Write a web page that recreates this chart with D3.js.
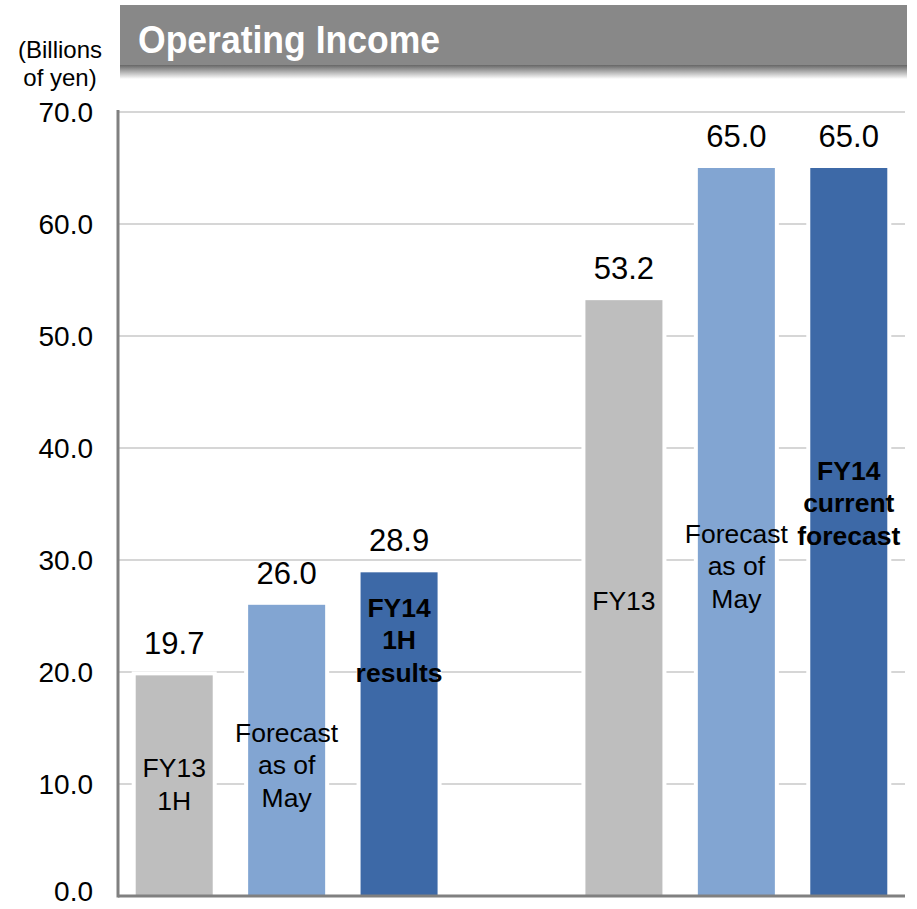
<!DOCTYPE html>
<html>
<head>
<meta charset="utf-8">
<script src="https://cdn.jsdelivr.net/npm/d3@7"></script>
<style>
  body { margin: 0; background: #fff; }
  svg text { font-family: "Liberation Sans", Arial, sans-serif; }
</style>
</head>
<body>
<div id="chart"></div>
<script>
// data
const categories = ["FY13 1H", "1H forecast as of May", "FY14 1H results", "", "FY13", "Full-year forecast as of May", "FY14 current forecast"]
const values = [19.7, 26.0, 28.9, null, 53.2, 65.0, 65.0]
const barLabels = [["FY13", "1H"], ["Forecast", "as of", "May"], ["FY14", "1H", "results"], [], ["FY13"], ["Forecast", "as of", "May"], ["FY14", "current", "forecast"]]
const boldLabel = [false, false, true, false, false, false, true]
const barColors = ["#bebebe", "#82a5d2", "#3d69a7", "none", "#bebebe", "#82a5d2", "#3d69a7"]
const yTicks = [0, 10, 20, 30, 40, 50, 60, 70]

const width = 917
const height = 909
const plotLeft = 118, plotRight = 905, plotTop = 112, plotBottom = 896

// where the inside labels sit (value units, middle of the text block)
const labelMid = [10.0, 11.7, 22.9, null, 26.4, 29.5, 35.1]

const svg = d3.select("#chart").append("svg")
    .attr("width", width)
    .attr("height", height)

const x = d3.scaleBand()
    .domain(d3.range(categories.length))
    .range([plotLeft, plotRight])
    .paddingInner(0.315)
    .paddingOuter(0.1575)

const y = d3.scaleLinear()
    .domain([0, 70])
    .range([plotBottom, plotTop])

// title banner
const defs = svg.append("defs")
const grad = defs.append("linearGradient")
    .attr("id", "shade").attr("x1", 0).attr("x2", 0).attr("y1", 0).attr("y2", 1)
grad.append("stop").attr("offset", "0%").attr("stop-color", "#666")
grad.append("stop").attr("offset", "100%").attr("stop-color", "#fff")

svg.append("rect")
    .attr("x", 120).attr("y", 5).attr("width", 787).attr("height", 60)
    .attr("fill", "#888")
svg.append("rect")
    .attr("x", 120).attr("y", 65).attr("width", 787).attr("height", 14)
    .attr("fill", "url(#shade)")
svg.append("text")
    .attr("x", 138).attr("y", 53)
    .attr("fill", "#fff")
    .attr("font-size", 38)
    .attr("font-weight", "bold")
    .attr("textLength", 302)
    .attr("lengthAdjust", "spacingAndGlyphs")
    .text("Operating Income")

// unit
svg.append("text")
    .attr("x", 60).attr("y", 58)
    .attr("text-anchor", "middle").attr("font-size", 24)
    .text("(Billions")
svg.append("text")
    .attr("x", 60).attr("y", 86)
    .attr("text-anchor", "middle").attr("font-size", 24)
    .text("of yen)")

// gridlines
svg.append("g")
    .selectAll("line")
    .data(yTicks.filter(t => t > 0))
    .enter()
    .append("line")
    .attr("x1", plotLeft).attr("x2", plotRight)
    .attr("y1", d => y(d)).attr("y2", d => y(d))
    .attr("stroke", "#c8c8c8")
    .attr("stroke-width", 1.5)

// tick labels
svg.append("g")
    .selectAll("text")
    .data(yTicks)
    .enter()
    .append("text")
    .attr("x", 93)
    .attr("y", d => Math.min(y(d) + 10, 901))
    .attr("text-anchor", "end")
    .attr("font-size", 28)
    .text(d => d.toFixed(1))

const idx = d3.range(categories.length).filter(i => values[i] != null)

// bars, white outline breaks the gridlines
svg.append("g")
    .selectAll("rect")
    .data(idx)
    .enter()
    .append("rect")
    .attr("x", i => x(i))
    .attr("y", i => y(values[i]))
    .attr("width", x.bandwidth())
    .attr("height", i => y(0) - y(values[i]))
    .attr("fill", i => barColors[i])
    .attr("stroke", "#fff")
    .attr("stroke-width", 8)
    .attr("paint-order", "stroke")

// axes lines
svg.append("line")
    .attr("x1", plotLeft).attr("x2", plotLeft)
    .attr("y1", y(70) - 2).attr("y2", plotBottom + 1.5)
    .attr("stroke", "#808080").attr("stroke-width", 3)
svg.append("line")
    .attr("x1", plotLeft).attr("x2", plotRight)
    .attr("y1", plotBottom).attr("y2", plotBottom)
    .attr("stroke", "#808080").attr("stroke-width", 3)

// value labels
svg.append("g")
    .selectAll("text")
    .data(idx)
    .enter()
    .append("text")
    .attr("x", i => x(i) + x.bandwidth() / 2)
    .attr("y", i => y(values[i]) - 21)
    .attr("text-anchor", "middle")
    .attr("font-size", 31)
    .text(i => values[i].toFixed(1))

// inside labels
const lineH = 32.5
idx.forEach(i => {
    const lines = barLabels[i]
    const cx = x(i) + x.bandwidth() / 2
    const mid = y(labelMid[i])
    const t = svg.append("text")
        .attr("text-anchor", "middle")
        .attr("font-size", 26.5)
        .attr("font-weight", boldLabel[i] ? "bold" : "normal")
        .attr("fill", "#000")
    lines.forEach((l, k) => {
        t.append("tspan")
            .attr("x", cx)
            .attr("y", mid + (k - (lines.length - 1) / 2) * lineH + 9.5)
            .text(l)
    })
})
</script>
</body>
</html>
